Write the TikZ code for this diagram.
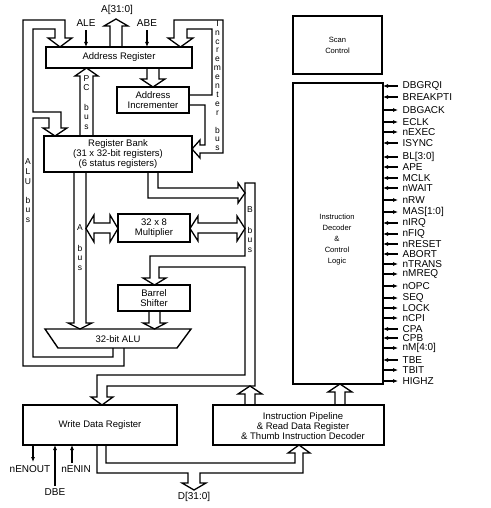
\documentclass[tikz,border=0pt]{standalone}
\usepackage{fontspec}
\setmainfont{Liberation Sans}
\usetikzlibrary{arrows.meta}
\begin{document}
\begin{tikzpicture}[x=1pt,y=-1pt,line width=1.3pt,line join=miter,
  box/.style={draw,line width=1.4pt,inner sep=0pt,align=center,font=\fontsize{9.5}{10}\selectfont},
  txt/.style={inner sep=0pt,align=center,font=\fontsize{9.5}{9.6}\selectfont},
  lbl/.style={inner sep=0pt,font=\fontsize{10}{11}\selectfont},
  small/.style={inner sep=0pt,align=center,font=\fontsize{7.6}{11}\selectfont},
  stk/.style={inner sep=0pt,font=\fontsize{8.5}{9}\selectfont},
  sigout/.style={line width=1.1pt,-{Latex[length=5pt,width=4.2pt]}},
  sigin/.style={line width=1.1pt,{Latex[length=5pt,width=4.2pt]}-},
  bus/.style={line width=1.3pt}
]
\useasboundingbox (0,0) rectangle (490,508);
\fill[white] (0,0) rectangle (490,508);

% ---------- boxes ----------
\node[box,minimum width=146pt,minimum height=21pt] (addr) at (119,57.5) {Address Register};
\node[box,minimum width=72pt,minimum height=26pt] (inc) at (153,100) {Address\\Incrementer};
\node[box,minimum width=148pt,minimum height=36pt] (rb) at (118,154) {Register Bank\\(31 x 32-bit registers)\\(6 status registers)};
\node[box,minimum width=72pt,minimum height=28pt] (mul) at (154,228) {32 x 8\\Multiplier};
\node[box,minimum width=72pt,minimum height=26pt] (bs) at (154,298) {Barrel\\Shifter};
\node[box,minimum width=154pt,minimum height=40pt] (wdr) at (100,425) {Write Data Register};
\node[box,minimum width=171pt,minimum height=40pt] (pipe) at (298.5,425) {};
\node[txt] (pipetxt) at (303,426) {Instruction Pipeline\\\& Read Data Register\\\& Thumb Instruction Decoder};
\node[box,small,minimum width=89pt,minimum height=58pt] (scan) at (337.5,45) {Scan\\Control};
\node[box,minimum width=90pt,minimum height=301pt] (dec) at (338,233.5) {};
\node[small] (dectxt) at (337,240) {Instruction\\Decoder\\\&\\Control\\Logic};
\draw[line width=1.4pt] (45,329) -- (191,329) -- (177,348) -- (58,348) -- cycle;
\node[txt] (alu) at (118,339) {32-bit ALU};

% ---------- top signals ----------
\node[lbl] (a31) at (117,10) {A[31:0]};
\node[lbl] (ale) at (86,23) {ALE};
\node[lbl] (abe) at (147,23) {ABE};
\draw[sigout] (ale.south) ++(0,3) -- (86,47);
\draw[sigout] (abe.south) ++(0,3) -- (147,47);
\draw[bus] (110,47) -- (110,26) -- (104,26) -- (116,19) -- (128,26) -- (122,26) -- (122,47);

% ---------- ALU bus (left loops) ----------
\draw[bus] (124,348) -- (124,366) -- (23,366) -- (23,20) -- (65,20) -- (65,38) -- (72,38)
  -- (60,47) -- (48,38) -- (55,38) -- (55,29) -- (33,29) -- (33,112) -- (61,112)
  -- (61,128) -- (67,128) -- (55,136) -- (43,128) -- (49,128) -- (49,118) -- (33,118)
  -- (33,357) -- (113,357) -- (113,348);

% ---------- Incrementer bus ----------
\draw[bus] (189,95) -- (212,95) -- (212,29) -- (187,29) -- (187,38) -- (193,38) -- (180.5,47)
  -- (168,38) -- (174,38) -- (174,20) -- (223,20) -- (223,153) -- (200,153) -- (200,158)
  -- (192,149) -- (200,140) -- (200,145) -- (205,145) -- (205,105) -- (189,105);

% ---------- PC bus ----------
\draw[bus] (80,136) -- (80,76) -- (75,76) -- (86.5,68) -- (98,76) -- (93,76) -- (93,136);
% address register -> incrementer
\draw[bus] (147,68) -- (147,79) -- (141,79) -- (153,87) -- (165,79) -- (159,79) -- (159,68);

% ---------- A bus ----------
\draw[bus] (74,172) -- (74,323) -- (68,323) -- (80,329) -- (92,323) -- (86,323) -- (86,172);

% ---------- register bank -> B bus ----------
\draw[bus] (158,172) -- (158,188) -- (238,188) -- (238,183) -- (245,193) -- (238,203) -- (238,198) -- (148,198) -- (148,172);

% ---------- B bus ----------
\draw[bus] (245,256) -- (245,183) -- (255,183) -- (255,386) -- (107,386) -- (107,397) -- (113,397)
  -- (102,405) -- (91,397) -- (97,397) -- (97,375) -- (245,375) -- (245,267) -- (159,267)
  -- (159,278) -- (166,278) -- (154.5,285) -- (143,278) -- (150,278) -- (150,256) -- cycle;

% ---------- multiplier double arrows ----------
\draw[bus] (94,223) -- (94,215) -- (86,228.5) -- (94,242) -- (94,233) -- (110,233) -- (110,242)
  -- (118,228.5) -- (110,215) -- (110,223) -- cycle;
\draw[bus] (198,223) -- (198,216) -- (190,228.5) -- (198,241) -- (198,233) -- (237,233) -- (237,241)
  -- (245,228.5) -- (237,216) -- (237,223) -- cycle;

% ---------- barrel shifter -> ALU ----------
\draw[bus] (149,311) -- (149,323) -- (143,323) -- (154.5,329) -- (166,323) -- (160,323) -- (160,311);

% ---------- pipeline up arrows ----------
\draw[bus] (245,405) -- (245,394) -- (238,394) -- (250,386) -- (262,394) -- (255,394) -- (255,405);
\draw[bus] (335,405) -- (335,392) -- (328,392) -- (340,384) -- (352,392) -- (345,392) -- (345,405);

% ---------- D bus ----------
\draw[bus] (97,445) -- (97,473) -- (188,473) -- (188,483) -- (182,483) -- (194,490) -- (206,483)
  -- (200,483) -- (200,473) -- (303,473) -- (303,453) -- (310,453) -- (299,445) -- (288,453)
  -- (295,453) -- (295,463) -- (106,463) -- (106,445);
\node[lbl] (dbus) at (194,497) {D[31:0]};

% ---------- write data register signals ----------
\node[lbl] (nenout) at (30,469) {nENOUT};
\node[lbl] (dbe) at (55,492) {DBE};
\node[lbl] (nenin) at (76,469) {nENIN};
\draw[sigout] (33,445) -- (33,462);
\draw[sigout] (55,486) -- (55,445);
\draw[sigout] (72,463) -- (72,445);

% ---------- stacked bus labels ----------
\foreach \c/\yy [count=\i] in {I/24,n/33,c/42,r/50,e/59,m/68,e/77,n/86,t/95,e/104,r/113,b/130,u/139,s/148}
  {\node[stk] (ib\i) at (217.5,\yy) {\c};}
\foreach \c/\yy [count=\i] in {A/162,L/172,U/182,b/200,u/210,s/220}
  {\node[stk] (ab\i) at (28,\yy) {\c};}
\foreach \c/\yy [count=\i] in {P/79,C/88,b/107,u/117,s/127}
  {\node[stk] (pb\i) at (86.5,\yy) {\c};}
\foreach \c/\yy [count=\i] in {A/228,b/248,u/258,s/268}
  {\node[stk] (xa\i) at (80,\yy) {\c};}
\foreach \c/\yy [count=\i] in {B/210,b/230,u/240,s/250}
  {\node[stk] (xb\i) at (250,\yy) {\c};}

% ---------- decoder signals ----------
\foreach \t/\yy/\d [count=\i] in {DBGRQI/86/i,BREAKPTI/97/i,DBGACK/110/o,ECLK/122/o,nEXEC/132/o,
  ISYNC/143/i,BL[3:0]/157/i,APE/167/i,MCLK/178/i,nWAIT/188/i,nRW/200/o,MAS[1:0]/212/o,
  nIRQ/223/i,nFIQ/234/i,nRESET/244/i,ABORT/254/i,nTRANS/264/o,nMREQ/274/o,nOPC/286/o,
  SEQ/298/o,LOCK/308/o,nCPI/318/o,CPA/329/i,CPB/338/i,nM[4:0]/348/o,TBE/360/i,TBIT/370/o,HIGHZ/381/o}
{
  \node[lbl,anchor=west] (s\i) at (402,\yy) {\t};
  \if\d i
    \draw[sigin] (383,\yy) -- (398,\yy);
  \else
    \draw[sigout] (383,\yy) -- (398,\yy);
  \fi
}
\end{tikzpicture}
\end{document}
